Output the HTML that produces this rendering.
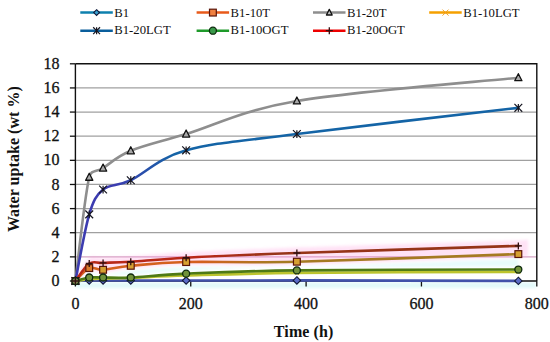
<!DOCTYPE html>
<html><head><meta charset="utf-8"><style>
html,body{margin:0;padding:0;background:#fff;}
svg{display:block;}
text{font-family:"Liberation Serif",serif;fill:#111;}
.t{font-size:16px;stroke:#111;stroke-width:0.3px;}
.l{font-size:12.7px;}
.b{font-size:16px;font-weight:bold;}
</style></head><body>
<svg width="550" height="342" viewBox="0 0 550 342">
<defs>
<linearGradient id="gRed" gradientUnits="userSpaceOnUse" x1="200" y1="0" x2="275" y2="0"><stop offset="0" stop-color="#B82818"/><stop offset="1" stop-color="#963418"/></linearGradient>
<linearGradient id="gOr" gradientUnits="userSpaceOnUse" x1="200" y1="0" x2="275" y2="0"><stop offset="0" stop-color="#D4601E"/><stop offset="1" stop-color="#A57A22"/></linearGradient>
<linearGradient id="gBl" gradientUnits="userSpaceOnUse" x1="115" y1="0" x2="175" y2="0"><stop offset="0" stop-color="#3C3CB0"/><stop offset="1" stop-color="#1464A6"/></linearGradient><filter id="hz" x="-5%" y="-20%" width="110%" height="140%"><feGaussianBlur stdDeviation="1.6"/></filter></defs>
<rect width="550" height="342" fill="#fff"/>
<line x1="75.40" y1="256.87" x2="536.80" y2="256.87" stroke="#D4A4C4" stroke-width="1.25"/>
<line x1="75.40" y1="232.73" x2="536.80" y2="232.73" stroke="#A0A0A0" stroke-width="1.25"/>
<line x1="75.40" y1="208.60" x2="536.80" y2="208.60" stroke="#A0A0A0" stroke-width="1.25"/>
<line x1="75.40" y1="184.47" x2="536.80" y2="184.47" stroke="#A0A0A0" stroke-width="1.25"/>
<line x1="75.40" y1="160.33" x2="536.80" y2="160.33" stroke="#A0A0A0" stroke-width="1.25"/>
<line x1="75.40" y1="136.20" x2="536.80" y2="136.20" stroke="#A0A0A0" stroke-width="1.25"/>
<line x1="75.40" y1="112.07" x2="536.80" y2="112.07" stroke="#A0A0A0" stroke-width="1.25"/>
<line x1="75.40" y1="87.93" x2="536.80" y2="87.93" stroke="#A0A0A0" stroke-width="1.25"/>
<g filter="url(#hz)">
<path d="M75.40,275.50 C77.71,272.58 84.63,261.02 89.24,258.00 C93.86,254.99 96.16,257.70 103.08,257.40 C110.00,257.10 116.94,257.06 130.77,256.19 C144.61,255.33 158.45,253.66 186.14,252.21 C213.82,250.76 241.50,249.48 296.87,247.51 C352.24,245.53 479.80,241.71 518.34,240.39 C523.26,240.22 526.51,239.68 528.15,239.54 L528.15,256.25 C526.51,256.39 523.26,256.91 518.34,257.09 C479.80,258.50 352.24,263.37 296.87,264.69 C241.52,266.02 213.82,264.37 186.14,265.06 C158.45,265.74 144.61,267.51 130.77,268.80 C116.93,270.08 110.00,272.40 103.08,272.78 C96.16,273.16 93.86,269.22 89.24,271.09 C84.63,272.96 77.71,281.85 75.40,284.00 Z" fill="#FF8CD8" fill-opacity="0.25"/>
<path d="M75.40,286.00 C77.71,283.85 84.63,274.96 89.24,273.09 C93.86,271.22 96.16,275.16 103.08,274.78 C110.00,274.40 116.93,272.08 130.77,270.80 C144.61,269.51 158.45,267.74 186.14,267.06 C213.82,266.37 241.52,268.02 296.87,266.69 C352.24,265.37 481.43,260.36 518.34,259.09 L518.34,266.54 C481.43,266.68 352.24,266.70 296.87,267.38 C241.50,268.07 213.82,269.45 186.14,270.64 C158.45,271.83 144.61,273.86 130.77,274.50 C116.94,275.14 110.00,274.50 103.08,274.50 C96.16,274.50 93.86,273.92 89.24,274.50 C84.63,275.08 77.71,277.42 75.40,278.00 Z" fill="#A0F4F4" fill-opacity="0.25"/>
<rect x="76" y="282.5" width="460" height="5.5" fill="#9AF0F0" fill-opacity="0.3"/>
</g>
<path d="M75.40,63.80 L536.80,63.80 L536.80,281.00" fill="none" stroke="#111" stroke-width="1.4"/>
<line x1="75.40" y1="63.80" x2="75.40" y2="281.00" stroke="#111" stroke-width="1.4"/>
<line x1="75.40" y1="281.00" x2="536.80" y2="281.00" stroke="#111" stroke-width="1.4"/>
<line x1="69.90" y1="281.00" x2="75.40" y2="281.00" stroke="#111" stroke-width="1.3"/>
<text x="59.6" y="286.10" text-anchor="end" class="t">0</text>
<line x1="69.90" y1="256.87" x2="75.40" y2="256.87" stroke="#111" stroke-width="1.3"/>
<text x="59.6" y="261.97" text-anchor="end" class="t">2</text>
<line x1="69.90" y1="232.73" x2="75.40" y2="232.73" stroke="#111" stroke-width="1.3"/>
<text x="59.6" y="237.83" text-anchor="end" class="t">4</text>
<line x1="69.90" y1="208.60" x2="75.40" y2="208.60" stroke="#111" stroke-width="1.3"/>
<text x="59.6" y="213.70" text-anchor="end" class="t">6</text>
<line x1="69.90" y1="184.47" x2="75.40" y2="184.47" stroke="#111" stroke-width="1.3"/>
<text x="59.6" y="189.57" text-anchor="end" class="t">8</text>
<line x1="69.90" y1="160.33" x2="75.40" y2="160.33" stroke="#111" stroke-width="1.3"/>
<text x="59.6" y="165.43" text-anchor="end" class="t">10</text>
<line x1="69.90" y1="136.20" x2="75.40" y2="136.20" stroke="#111" stroke-width="1.3"/>
<text x="59.6" y="141.30" text-anchor="end" class="t">12</text>
<line x1="69.90" y1="112.07" x2="75.40" y2="112.07" stroke="#111" stroke-width="1.3"/>
<text x="59.6" y="117.17" text-anchor="end" class="t">14</text>
<line x1="69.90" y1="87.93" x2="75.40" y2="87.93" stroke="#111" stroke-width="1.3"/>
<text x="59.6" y="93.03" text-anchor="end" class="t">16</text>
<line x1="69.90" y1="63.80" x2="75.40" y2="63.80" stroke="#111" stroke-width="1.3"/>
<text x="59.6" y="68.90" text-anchor="end" class="t">18</text>
<line x1="75.40" y1="281.00" x2="75.40" y2="286.50" stroke="#111" stroke-width="1.3"/>
<text x="75.40" y="309.0" text-anchor="middle" class="t">0</text>
<line x1="190.75" y1="281.00" x2="190.75" y2="286.50" stroke="#111" stroke-width="1.3"/>
<text x="190.75" y="309.0" text-anchor="middle" class="t">200</text>
<line x1="306.10" y1="281.00" x2="306.10" y2="286.50" stroke="#111" stroke-width="1.3"/>
<text x="306.10" y="309.0" text-anchor="middle" class="t">400</text>
<line x1="421.45" y1="281.00" x2="421.45" y2="286.50" stroke="#111" stroke-width="1.3"/>
<text x="421.45" y="309.0" text-anchor="middle" class="t">600</text>
<line x1="536.80" y1="281.00" x2="536.80" y2="286.50" stroke="#111" stroke-width="1.3"/>
<text x="536.80" y="309.0" text-anchor="middle" class="t">800</text>
<path d="M75.40,281.00 C77.71,280.92 84.63,280.60 89.24,280.52 C93.86,280.44 96.16,280.52 103.08,280.52 C110.00,280.52 116.93,280.52 130.77,280.52 C144.61,280.52 158.45,280.54 186.14,280.52 C213.82,280.50 241.50,280.34 296.87,280.40 C352.24,280.46 481.43,280.80 518.34,280.88" fill="none" stroke="#4152AA" stroke-width="2.6" stroke-linecap="round" stroke-linejoin="round"/>
<path d="M75.40,281.00 C77.71,278.85 84.63,269.96 89.24,268.09 C93.86,266.22 96.16,270.16 103.08,269.78 C110.00,269.40 116.93,267.08 130.77,265.80 C144.61,264.51 158.45,262.74 186.14,262.06 C213.82,261.37 241.52,263.02 296.87,261.69 C352.24,260.37 481.43,255.36 518.34,254.09" fill="none" stroke="url(#gOr)" stroke-width="2.6" stroke-linecap="round" stroke-linejoin="round"/>
<path d="M75.40,281.00 C77.71,263.70 84.63,196.05 89.24,177.23 C91.22,169.16 96.16,172.46 103.08,168.06 C110.00,163.65 116.93,156.47 130.77,150.80 C144.61,145.13 158.45,142.33 186.14,134.03 C213.82,125.72 241.50,110.36 296.87,100.97 C352.24,91.57 481.43,81.56 518.34,77.68" fill="none" stroke="#8E8E8E" stroke-width="2.6" stroke-linecap="round" stroke-linejoin="round"/>
<path d="M75.40,281.00 C77.71,280.70 84.63,279.59 89.24,279.19 C93.86,278.79 96.16,278.79 103.08,278.59 C110.00,278.39 116.93,278.49 130.77,277.98 C144.61,277.48 158.45,276.41 186.14,275.57 C213.82,274.73 241.50,273.52 296.87,272.92 C352.24,272.31 481.43,272.11 518.34,271.95" fill="none" stroke="#BCC42E" stroke-width="2.6" stroke-linecap="round" stroke-linejoin="round"/>
<path d="M75.40,281.00 C77.71,269.90 84.63,229.64 89.24,214.39 C93.36,200.78 96.16,195.23 103.08,189.53 C110.00,183.84 117.57,186.48 130.77,180.24 C144.61,173.71 158.45,158.02 186.14,150.32 C213.82,142.62 241.50,141.11 296.87,134.03 C352.24,126.95 481.43,112.21 518.34,107.84" fill="none" stroke="url(#gBl)" stroke-width="2.6" stroke-linecap="round" stroke-linejoin="round"/>
<path d="M75.40,281.00 C77.71,280.42 84.63,278.08 89.24,277.50 C93.86,276.92 96.16,277.50 103.08,277.50 C110.00,277.50 116.94,278.14 130.77,277.50 C144.61,276.86 158.45,274.83 186.14,273.64 C213.82,272.45 241.50,271.07 296.87,270.38 C352.24,269.70 481.43,269.68 518.34,269.54" fill="none" stroke="#4E7A16" stroke-width="2.6" stroke-linecap="round" stroke-linejoin="round"/>
<path d="M75.40,281.00 C77.71,278.08 84.63,266.52 89.24,263.50 C93.86,260.49 96.16,263.20 103.08,262.90 C110.00,262.60 116.94,262.56 130.77,261.69 C144.61,260.83 158.45,259.16 186.14,257.71 C213.82,256.26 241.50,254.98 296.87,253.01 C352.24,251.03 481.43,247.07 518.34,245.89" fill="none" stroke="url(#gRed)" stroke-width="2.6" stroke-linecap="round" stroke-linejoin="round"/>
<path d="M75.40,277.30 L79.10,281.00 L75.40,284.70 L71.70,281.00 Z" fill="#5A6CC8" stroke="#101838" stroke-width="1.1"/>
<path d="M89.24,276.82 L92.94,280.52 L89.24,284.22 L85.54,280.52 Z" fill="#5A6CC8" stroke="#101838" stroke-width="1.1"/>
<path d="M103.08,276.82 L106.78,280.52 L103.08,284.22 L99.38,280.52 Z" fill="#5A6CC8" stroke="#101838" stroke-width="1.1"/>
<path d="M130.77,276.82 L134.47,280.52 L130.77,284.22 L127.07,280.52 Z" fill="#5A6CC8" stroke="#101838" stroke-width="1.1"/>
<path d="M186.14,276.82 L189.84,280.52 L186.14,284.22 L182.44,280.52 Z" fill="#5A6CC8" stroke="#101838" stroke-width="1.1"/>
<path d="M296.87,276.70 L300.57,280.40 L296.87,284.10 L293.17,280.40 Z" fill="#5A6CC8" stroke="#101838" stroke-width="1.1"/>
<path d="M518.34,277.18 L522.04,280.88 L518.34,284.58 L514.64,280.88 Z" fill="#5A6CC8" stroke="#101838" stroke-width="1.1"/>
<rect x="72.00" y="277.60" width="6.80" height="6.80" fill="#D6A032" stroke="#5A1408" stroke-width="1.2"/>
<rect x="85.84" y="264.69" width="6.80" height="6.80" fill="#DC7A2C" stroke="#5A1408" stroke-width="1.2"/>
<rect x="99.68" y="266.38" width="6.80" height="6.80" fill="#D6A032" stroke="#5A1408" stroke-width="1.2"/>
<rect x="127.37" y="262.40" width="6.80" height="6.80" fill="#D6A032" stroke="#5A1408" stroke-width="1.2"/>
<rect x="182.74" y="258.66" width="6.80" height="6.80" fill="#D6A032" stroke="#5A1408" stroke-width="1.2"/>
<rect x="293.47" y="258.29" width="6.80" height="6.80" fill="#D6A032" stroke="#5A1408" stroke-width="1.2"/>
<rect x="514.94" y="250.69" width="6.80" height="6.80" fill="#D6A032" stroke="#5A1408" stroke-width="1.2"/>
<path d="M75.40,277.00 L79.00,284.00 L71.80,284.00 Z" fill="#A8A8A8" stroke="#111111" stroke-width="1.3" stroke-linejoin="round"/>
<path d="M89.24,173.23 L92.84,180.23 L85.64,180.23 Z" fill="#A8A8A8" stroke="#111111" stroke-width="1.3" stroke-linejoin="round"/>
<path d="M103.08,164.06 L106.68,171.06 L99.48,171.06 Z" fill="#A8A8A8" stroke="#111111" stroke-width="1.3" stroke-linejoin="round"/>
<path d="M130.77,146.80 L134.37,153.80 L127.17,153.80 Z" fill="#A8A8A8" stroke="#111111" stroke-width="1.3" stroke-linejoin="round"/>
<path d="M186.14,130.03 L189.74,137.03 L182.54,137.03 Z" fill="#A8A8A8" stroke="#111111" stroke-width="1.3" stroke-linejoin="round"/>
<path d="M296.87,96.97 L300.47,103.97 L293.27,103.97 Z" fill="#A8A8A8" stroke="#111111" stroke-width="1.3" stroke-linejoin="round"/>
<path d="M518.34,73.68 L521.94,80.68 L514.74,80.68 Z" fill="#A8A8A8" stroke="#111111" stroke-width="1.3" stroke-linejoin="round"/>
<path d="M73.30,278.90 L77.50,283.10 M73.30,283.10 L77.50,278.90" stroke="#C8B030" stroke-width="1"/>
<path d="M87.14,277.09 L91.34,281.29 M87.14,281.29 L91.34,277.09" stroke="#C8B030" stroke-width="1"/>
<path d="M100.98,276.49 L105.18,280.69 M100.98,280.69 L105.18,276.49" stroke="#C8B030" stroke-width="1"/>
<path d="M128.67,275.88 L132.87,280.08 M128.67,280.08 L132.87,275.88" stroke="#C8B030" stroke-width="1"/>
<path d="M184.04,273.47 L188.24,277.67 M184.04,277.67 L188.24,273.47" stroke="#C8B030" stroke-width="1"/>
<path d="M294.77,270.82 L298.97,275.02 M294.77,275.02 L298.97,270.82" stroke="#C8B030" stroke-width="1"/>
<path d="M516.24,269.85 L520.44,274.05 M516.24,274.05 L520.44,269.85" stroke="#C8B030" stroke-width="1"/>
<path d="M71.50,277.10 L79.30,284.90 M71.50,284.90 L79.30,277.10 M75.40,277.10 L75.40,284.90" stroke="#151520" stroke-width="1.2"/>
<path d="M85.34,210.49 L93.14,218.29 M85.34,218.29 L93.14,210.49 M89.24,210.49 L89.24,218.29" stroke="#151520" stroke-width="1.2"/>
<path d="M99.18,185.63 L106.98,193.43 M99.18,193.43 L106.98,185.63 M103.08,185.63 L103.08,193.43" stroke="#151520" stroke-width="1.2"/>
<path d="M126.87,176.34 L134.67,184.14 M126.87,184.14 L134.67,176.34 M130.77,176.34 L130.77,184.14" stroke="#151520" stroke-width="1.2"/>
<path d="M182.24,146.42 L190.04,154.22 M182.24,154.22 L190.04,146.42 M186.14,146.42 L186.14,154.22" stroke="#151520" stroke-width="1.2"/>
<path d="M292.97,130.13 L300.77,137.93 M292.97,137.93 L300.77,130.13 M296.87,130.13 L296.87,137.93" stroke="#151520" stroke-width="1.2"/>
<path d="M514.44,103.94 L522.24,111.74 M514.44,111.74 L522.24,103.94 M518.34,103.94 L518.34,111.74" stroke="#151520" stroke-width="1.2"/>
<circle cx="75.40" cy="281.00" r="3.50" fill="#7C8050" stroke="#0E2A0E" stroke-width="1.3"/>
<circle cx="89.24" cy="277.50" r="3.50" fill="#70923A" stroke="#0E2A0E" stroke-width="1.3"/>
<circle cx="103.08" cy="277.50" r="3.50" fill="#70923A" stroke="#0E2A0E" stroke-width="1.3"/>
<circle cx="130.77" cy="277.50" r="3.50" fill="#70923A" stroke="#0E2A0E" stroke-width="1.3"/>
<circle cx="186.14" cy="273.64" r="3.50" fill="#70923A" stroke="#0E2A0E" stroke-width="1.3"/>
<circle cx="296.87" cy="270.38" r="3.50" fill="#70923A" stroke="#0E2A0E" stroke-width="1.3"/>
<circle cx="518.34" cy="269.54" r="3.50" fill="#70923A" stroke="#0E2A0E" stroke-width="1.3"/>
<path d="M71.90,281.00 L78.90,281.00 M75.40,277.50 L75.40,284.50" stroke="#301010" stroke-width="1.3"/>
<path d="M85.74,263.50 L92.74,263.50 M89.24,260.00 L89.24,267.00" stroke="#301010" stroke-width="1.3"/>
<path d="M99.58,262.90 L106.58,262.90 M103.08,259.40 L103.08,266.40" stroke="#301010" stroke-width="1.3"/>
<path d="M127.27,261.69 L134.27,261.69 M130.77,258.19 L130.77,265.19" stroke="#301010" stroke-width="1.3"/>
<path d="M182.64,257.71 L189.64,257.71 M186.14,254.21 L186.14,261.21" stroke="#301010" stroke-width="1.3"/>
<path d="M293.37,253.01 L300.37,253.01 M296.87,249.51 L296.87,256.51" stroke="#301010" stroke-width="1.3"/>
<path d="M514.84,245.89 L521.84,245.89 M518.34,242.39 L518.34,249.39" stroke="#301010" stroke-width="1.3"/>
<line x1="80.30" y1="12.60" x2="112.80" y2="12.60" stroke="#0E80AE" stroke-width="2.5"/>
<path d="M96.60,9.71 L99.49,12.60 L96.60,15.49 L93.71,12.60 Z" fill="#3AA0D0" stroke="#101838" stroke-width="1.1"/>
<text x="114.30" y="16.60" class="l">B1</text>
<line x1="196.60" y1="12.60" x2="229.10" y2="12.60" stroke="#E85A1A" stroke-width="2.5"/>
<rect x="209.50" y="9.20" width="6.80" height="6.80" fill="#F08040" stroke="#5A1408" stroke-width="1.2"/>
<text x="230.60" y="16.60" class="l">B1-10T</text>
<line x1="313.00" y1="12.60" x2="345.50" y2="12.60" stroke="#8E8E8E" stroke-width="2.5"/>
<path d="M329.30,9.40 L332.18,15.00 L326.42,15.00 Z" fill="#C0C0C0" stroke="#111111" stroke-width="1.3" stroke-linejoin="round"/>
<text x="347.00" y="16.60" class="l">B1-20T</text>
<line x1="429.20" y1="12.60" x2="461.70" y2="12.60" stroke="#F5A000" stroke-width="2.5"/>
<path d="M442.50,9.60 L448.50,15.60 M442.50,15.60 L448.50,9.60" stroke="#F0A020" stroke-width="1"/>
<text x="463.20" y="16.60" class="l">B1-10LGT</text>
<line x1="80.30" y1="30.70" x2="112.80" y2="30.70" stroke="#0A5E9C" stroke-width="2.5"/>
<path d="M93.17,27.27 L100.03,34.13 M93.17,34.13 L100.03,27.27 M96.60,27.27 L96.60,34.13" stroke="#151520" stroke-width="1.2"/>
<text x="114.30" y="34.40" class="l">B1-20LGT</text>
<line x1="196.60" y1="30.70" x2="229.10" y2="30.70" stroke="#1E9A2A" stroke-width="2.5"/>
<circle cx="212.90" cy="30.70" r="3.50" fill="#3A9A4A" stroke="#0E2A0E" stroke-width="1.3"/>
<text x="230.60" y="34.40" class="l">B1-10OGT</text>
<line x1="313.00" y1="30.70" x2="345.50" y2="30.70" stroke="#EE0000" stroke-width="2.5"/>
<path d="M325.80,30.70 L332.80,30.70 M329.30,27.20 L329.30,34.20" stroke="#301010" stroke-width="1.3"/>
<text x="347.00" y="34.40" class="l">B1-20OGT</text>
<text x="303.6" y="337.2" text-anchor="middle" class="b" textLength="59.5" lengthAdjust="spacing">Time (h)</text>
<text transform="translate(19.2,159.1) rotate(-90)" x="0" y="0" text-anchor="middle" class="b" textLength="146" lengthAdjust="spacing">Water uptake (wt %)</text>
</svg>
</body></html>
